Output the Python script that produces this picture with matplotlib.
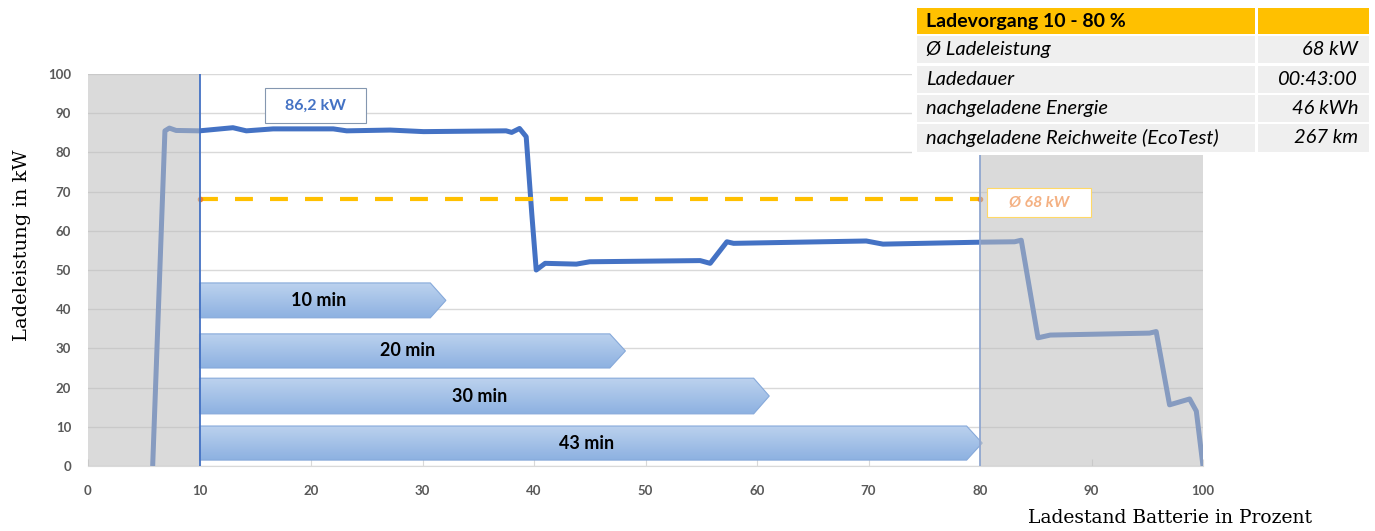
import numpy as np
import matplotlib.pyplot as plt
from matplotlib.patches import Polygon, Rectangle
from matplotlib.colors import LinearSegmentedColormap

W, H = 1375, 531

# Ladekurve (Ladestand in %, Ladeleistung in kW)
soc = [5.8, 6.9, 7.3, 7.9, 10.0, 13.0, 14.2, 16.6, 22.0, 23.2, 27.1, 30.1, 37.5,
       38.0, 38.7, 39.3, 39.8, 40.2, 41.0, 43.8, 45.0, 54.9, 55.8, 57.3, 57.9,
       69.8, 71.3, 80.1, 83.1, 83.7, 85.2, 86.3, 95.2, 95.8, 97.0, 98.8, 99.4, 100.0]
power = [0, 85.5, 86.2, 85.6, 85.5, 86.3, 85.5, 86.0, 86.0, 85.5, 85.7, 85.3, 85.5,
         85.1, 86.1, 84.0, 64.4, 50.0, 51.7, 51.5, 52.1, 52.4, 51.7, 57.2, 56.8,
         57.4, 56.6, 57.1, 57.2, 57.6, 32.7, 33.4, 33.9, 34.3, 15.6, 17.1, 14.0, 0]

avg_power = 68
window = [10, 80]
peak_label = '86,2 kW'
avg_label = 'Ø 68 kW'

arrow_labels = ['10 min', '20 min', '30 min', '43 min']
arrow_end = [32.1, 48.2, 61.1, 80.2]
arrow_top = [46.7, 33.7, 22.4, 10.2]
arrow_bottom = [37.8, 25.0, 13.3, 1.5]

table_header = 'Ladevorgang 10 - 80 %'
table_keys = ['Ø Ladeleistung', 'Ladedauer', 'nachgeladene Energie',
              'nachgeladene Reichweite (EcoTest)']
table_vals = ['68 kW', '00:43:00', '46 kWh', '267 km']

fig = plt.figure(figsize=(W / 100, H / 100), dpi=100)
ax = fig.add_axes([88 / W, 1 - 466 / H, (1203 - 88) / W, (466 - 74) / H])

ax.grid(axis='y', color='#d9d9d9', lw=1, zorder=0.5)
ax.set_axisbelow(True)
for s in ['top', 'right', 'left']:
    ax.spines[s].set_visible(False)
ax.spines['bottom'].set_color('#d9d9d9')
ax.set_xticks(range(0, 101, 10))
ax.set_yticks(range(0, 101, 10))
ax.tick_params(axis='y', length=0, pad=12, labelcolor='#595959', labelsize=9.5)
ax.tick_params(axis='x', direction='in', length=5, color='#d9d9d9', pad=14,
               labelcolor='#595959', labelsize=9.5)
for lab in ax.get_xticklabels() + ax.get_yticklabels():
    lab.set_fontweight('bold')
    lab.set_fontfamily('Lato')

# Ladekurve
ax.plot(soc, power, color='#4472c4', lw=3.6, solid_joinstyle='round',
        solid_capstyle='butt', zorder=3)

# grau hinterlegte Bereiche ausserhalb 10-80 %
ax.axvspan(0, window[0], color='#bdbdbd', alpha=0.55, lw=0, zorder=4)
ax.axvspan(window[1], 100, color='#bdbdbd', alpha=0.55, lw=0, zorder=4)
ax.axvline(window[0], color='#4472c4', lw=1.3, zorder=5)
ax.axvline(window[1], color='#8fa6d0', lw=1.3, zorder=5)

# Durchschnittsleistung
ax.plot(window, [avg_power, avg_power], color='#ffc000', lw=3, dashes=(4.3, 4.1),
        zorder=3.5)
ax.plot(window, [avg_power, avg_power], 'o', color='#ed7d31', ms=3, zorder=3.6)

# Zeitpfeile
cmap = LinearSegmentedColormap.from_list('arr', ['#8db1e1', '#bcd2ee'])
grad = np.linspace(0, 1, 100).reshape(-1, 1)
for label, end, top, bot in zip(arrow_labels, arrow_end, arrow_top, arrow_bottom):
    mid = (top + bot) / 2
    tip = 1.4
    poly = Polygon([(window[0], bot), (end - tip, bot), (end, mid),
                    (end - tip, top), (window[0], top)], closed=True,
                   fc='none', ec='#86a9da', lw=0.8, zorder=2.6)
    ax.add_patch(poly)
    im = ax.imshow(grad, extent=[window[0], end, bot, top], origin='lower',
                   cmap=cmap, aspect='auto', zorder=2.5)
    im.set_clip_path(poly)
    ax.text((window[0] + end) / 2 - 0.4, mid, label, ha='center', va='center',
            fontsize=13, fontweight='bold', family='Lato', color='black',
            zorder=2.7)

# Beschriftungsboxen
ax.add_patch(Rectangle((15.87, 87.5), 9.06, 8.9, fc='white', ec='#8497b0',
                       lw=0.8, zorder=6))
ax.text(20.4, 91.9, peak_label, color='#4472c4', fontweight='bold', fontsize=11.5,
        family='Lato', ha='center', va='center', zorder=7)
ax.add_patch(Rectangle((80.63, 63.4), 9.33, 7.6, fc='white', ec='#ffd966',
                       lw=0.8, zorder=6))
ax.text(85.3, 67.2, avg_label, color='#f4b183', fontweight='bold', style='italic',
        fontsize=11.5, family='Lato', ha='center', va='center', zorder=7)

ax.set_xlim(0, 100)
ax.set_ylim(0, 100)


# Tabelle oben rechts
def fig_rect(x0, y0, x1, y1, color):
    fig.add_artist(Rectangle((x0 / W, 1 - y1 / H), (x1 - x0) / W, (y1 - y0) / H,
                             transform=fig.transFigure, fc=color, lw=0))


fig_rect(912, 0, W, 155, 'white')
fig_rect(916.7, 8.4, 1255, 33.6, '#ffc000')
fig_rect(1258, 8.4, 1369, 33.6, '#ffc000')
fig.text(926 / W, 1 - 21 / H, table_header, fontweight='bold', fontsize=14,
         family='Lato', va='center')
rows = [(36, 63), (65.5, 93), (95, 121.5), (124, 151.7)]
for (y0, y1), key, val in zip(rows, table_keys, table_vals):
    fig_rect(916.7, y0, 1255, y1, '#efefef')
    fig_rect(1258, y0, 1369, y1, '#efefef')
    yc = 1 - (y0 + y1) / 2 / H
    fig.text(926 / W, yc, key, style='italic', fontsize=14.5, family='Lato',
             va='center')
    fig.text(1358 / W, yc, val, style='italic', fontsize=14.5, family='Lato',
             va='center', ha='right')

fig.text(22 / W, 1 - 245 / H, 'Ladeleistung in kW', rotation=90, ha='center',
         va='center', family='DejaVu Serif', fontsize=14)
fig.text(1170 / W, 1 - 518 / H, 'Ladestand Batterie in Prozent', ha='center',
         va='center', family='DejaVu Serif', fontsize=13.5)

fig.savefig('out.png', dpi=100)
